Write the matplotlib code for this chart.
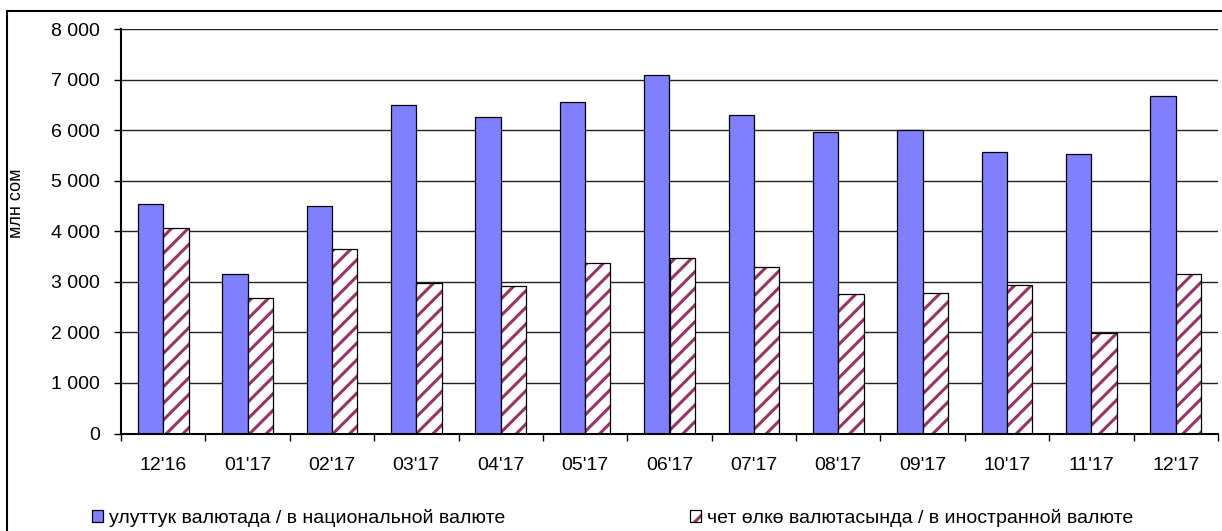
import matplotlib
matplotlib.use("Agg")
import matplotlib.pyplot as plt
import numpy as np
from matplotlib.patches import Rectangle
from matplotlib.colors import to_rgba

categories = ["12'16", "01'17", "02'17", "03'17", "04'17", "05'17", "06'17",
              "07'17", "08'17", "09'17", "10'17", "11'17", "12'17"]
national = [4545, 3155, 4493, 6503, 6260, 6563, 7097, 6293, 5970, 6003, 5568, 5534, 6669]
foreign = [4058, 2674, 3643, 2970, 2911, 3366, 3478, 3287, 2759, 2785, 2937, 1982, 3149]
yticks = [0, 1000, 2000, 3000, 4000, 5000, 6000, 7000, 8000]
ytick_labels = ["0", "1 000", "2 000", "3 000", "4 000", "5 000", "6 000", "7 000", "8 000"]
label_nat = "улуттук валютада / в национальной валюте"
label_for = "чет өлкө валютасында / в иностранной валюте"
ylabel = "млн сом"

plt.rcParams['font.family'] = ['Liberation Sans', 'DejaVu Sans']
plt.rcParams['hatch.linewidth'] = 2.2

BLUE = '#8080FF'
MAROON = '#993366'

W, H = 1222, 531
fig = plt.figure(figsize=(W / 100, H / 100), dpi=100)
ax = fig.add_axes([121 / W, 1 - 433.5 / H, (1218 - 121) / W, (433.5 - 29) / H])

x = np.arange(len(categories))
bw = 0.3
ax.bar(x - bw / 2, national, width=bw, color=BLUE, edgecolor='black', linewidth=0.9, zorder=3)
ax.bar(x + bw / 2, foreign, width=bw, color='white', edgecolor=MAROON, hatch='//', linewidth=0, zorder=3)
ax.bar(x + bw / 2, foreign, width=bw, fill=False, edgecolor='black', linewidth=0.9, zorder=4)

ax.set_xlim(-0.5, len(categories) - 0.5)
ax.set_ylim(0, 8000)
ax.set_yticks(yticks)
ax.set_yticklabels(ytick_labels)
ax.set_xticks(x)
ax.set_xticklabels(categories)
ax.set_xticks(np.arange(len(categories) + 1) - 0.5, minor=True)
ax.tick_params(axis='x', which='major', length=0, pad=17, labelsize=14)
ax.tick_params(axis='x', which='minor', length=5, width=1, direction='out')
ax.tick_params(axis='y', length=5, width=1, direction='out', pad=10, labelsize=14)

ax.yaxis.grid(True, color='#222222', linewidth=1.0, zorder=0)
ax.set_axisbelow(True)
for s in ['top', 'right']:
    ax.spines[s].set_visible(False)
ax.spines['left'].set_linewidth(1.5)
ax.spines['bottom'].set_linewidth(1.5)
ax.spines['bottom'].set_zorder(5)

ax.set_ylabel(ylabel, fontsize=13)
ax.yaxis.set_label_coords((25 - 121) / (1218 - 121), (433.5 - 203) / 404.5)

# legends
h_nat = Rectangle((0, 0), 1, 1, facecolor=BLUE, edgecolor='black', linewidth=0.9)
h_for = Rectangle((0, 0), 1, 1, facecolor='white', edgecolor='black', hatch='//', linewidth=0.9)

common = dict(loc='center left', frameon=False, borderpad=0, borderaxespad=0,
              handlelength=0.57, handleheight=0.57, handletextpad=0.3, fontsize=14)
leg1 = fig.legend([h_nat], [label_nat], bbox_to_anchor=(92 / W, (H - 518) / H), **common)
leg2 = fig.legend([h_for], [label_for], bbox_to_anchor=(690 / W, (H - 518) / H), **common)
lh = leg2.legend_handles[0]
if hasattr(lh, 'set_hatchcolor'):
    lh.set_hatchcolor(MAROON)
else:
    lh._hatch_color = to_rgba(MAROON)

# outer frame (right and bottom edges fall outside the image)
fig.patches.append(Rectangle((7 / W, 1 - 545 / H), (1240 - 7) / W, (545 - 11) / H,
                             transform=fig.transFigure, fill=False, edgecolor='black',
                             linewidth=1.5, zorder=10, clip_on=False))

fig.savefig('out.png', dpi=100)
